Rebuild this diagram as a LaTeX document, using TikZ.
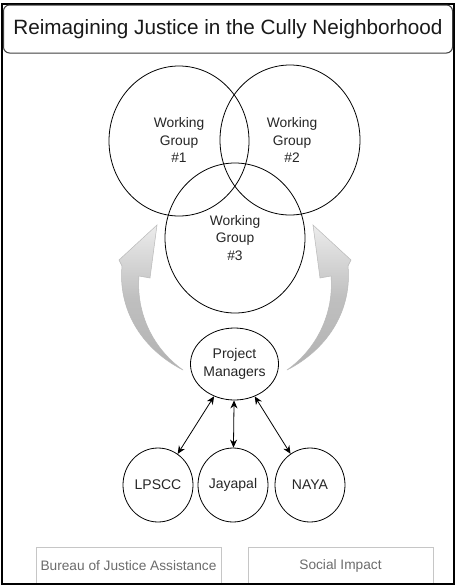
\documentclass[tikz,border=0pt]{standalone}
\usepackage{fontspec}
\setmainfont{Liberation Sans}
\usetikzlibrary{shapes.geometric,arrows.meta}
\begin{document}
\begin{tikzpicture}[x=1pt,y=-1pt,
  wg/.style={ellipse,draw=black,line width=0.8pt,minimum width=140pt,minimum height=150pt,inner sep=0pt,align=center,font=\fontsize{13.5}{17.5}\selectfont,text=black!85},
  small/.style={ellipse,draw=black,line width=0.8pt,minimum width=70pt,minimum height=74pt,inner sep=0pt,align=center,font=\fontsize{14}{17.5}\selectfont,text=black!85},
  wgtext/.style={align=center,font=\fontsize{13.8}{17.5}\selectfont,text=black!85},
  bigarrow/.style={draw=gray!55,line width=0.5pt,top color=gray!15,bottom color=gray!60,middle color=gray!50},
  link/.style={{Stealth[length=8pt,width=7pt]}-{Stealth[length=8pt,width=7pt]},line width=0.8pt},
  srcbox/.style={draw=gray!45,line width=0.8pt,text=gray!85!black,font=\fontsize{13.7}{16}\selectfont}
]
\useasboundingbox (0,0) rectangle (456,587);
\fill[white] (0,0) rectangle (456,587);
% outer frame
\draw[line width=1.6pt] (2,4) rectangle (454,584);
% title
\node[draw=black!75,line width=1pt,rounded corners=6pt,minimum width=449pt,minimum height=48pt,inner sep=0pt,font=\fontsize{20.7}{24}\selectfont,text=black!90] (title) at (228,29) {Reimagining Justice in the Cully Neighborhood};
% working groups
\node[wg] (wg1) at (179,141) {};
\node[wg] (wg2) at (290,140) {};
\node[wg] (wg3) at (235,238) {};
\node[wgtext] (t1) at (179,140) {Working\\Group\\\#1};
\node[wgtext] (t2) at (292,140) {Working\\Group\\\#2};
\node[wgtext] (t3) at (235,238) {Working\\Group\\\#3};
% big curved arrows
\path[bigarrow] (157,225) -- (150,278) -- (139,276)
  .. controls (136,312) and (152,348) .. (183,370)
  .. controls (140,348) and (118,308) .. (122,266)
  -- (119,260) -- cycle;
\begin{scope}[xshift=470pt,xscale=-1]
\path[bigarrow] (157,225) -- (150,278) -- (139,276)
  .. controls (136,312) and (152,348) .. (183,370)
  .. controls (140,348) and (118,308) .. (122,266)
  -- (119,260) -- cycle;
\end{scope}
% project managers
\node[small,minimum width=68pt,minimum height=72pt] (pm) at (234.5,364) {Project\\Managers};
\node[small] (lp) at (158,485) {LPSCC};
\node[small] (jy) at (233,485) {Jayapal};
\node[small] (na) at (310,485) {NAYA};
\draw[link] (lp) -- (pm);
\draw[link] (jy) -- (pm);
\draw[link] (na) -- (pm);
% bottom boxes
\node[srcbox,minimum width=185pt,minimum height=37pt,inner sep=0pt] (bja) at (128.5,565.5) {Bureau of Justice Assistance};
\node[srcbox,minimum width=185pt,minimum height=37pt,inner sep=0pt] (si) at (340.5,565.5) {Social Impact};
\draw[line width=1.6pt] (2,584) -- (454,584);
\end{tikzpicture}
\end{document}
